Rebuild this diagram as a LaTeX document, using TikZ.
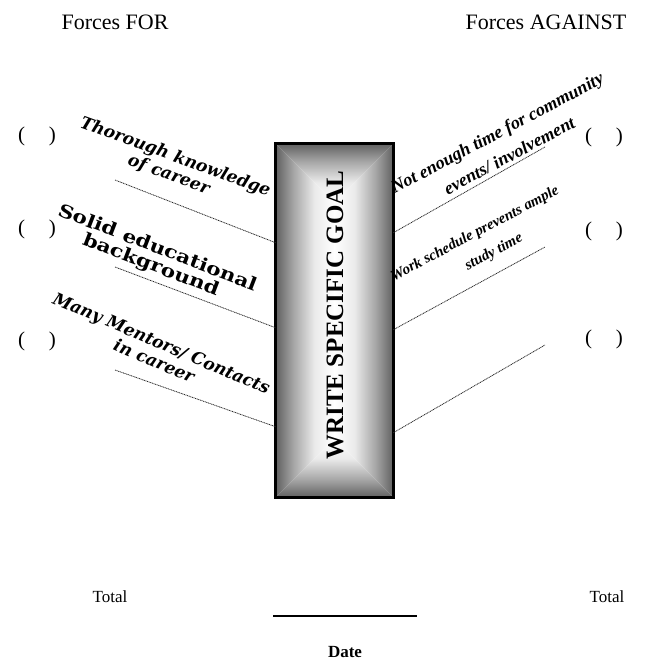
\documentclass[tikz,border=0pt]{standalone}
\usepackage{fontspec}
\setmainfont{Liberation Serif}
\newfontfamily\wideserif{DejaVu Serif}
\newfontfamily\extserif{DejaVu Serif}[FakeStretch=1.2]
\usepackage{tikz}
\usetikzlibrary{calc,positioning}
\def\fsz#1#2{\fontsize{#1}{#2}\selectfont}
\pgfdeclarehorizontalshading{sidefade}{100bp}{color(0bp)=(black!62); color(25bp)=(black!62); color(40bp)=(black!35); color(58bp)=(black!8); color(75bp)=(white); color(100bp)=(white)}

\begin{document}
\begin{tikzpicture}[x=1pt,y=-1pt,
	forlabel/.style={align=center,inner sep=0pt,font=\wideserif\bfseries\itshape\fsz{17}{19}},
	againstlabel/.style={align=center,inner sep=0pt,font=\bfseries\itshape\fsz{18}{26}},
	paren/.style={inner sep=0pt,font=\fsz{21}{21}},
	forceline/.style={line width=0.8pt,color=black!85,dash pattern=on 1pt off 0.7pt},
	goalbox/.style={minimum width=117pt,minimum height=353pt,inner sep=0pt}]
	%%%%% START %%%%%
	\useasboundingbox (0,0) rectangle (649,662);
	
	\node[font=\fsz{22}{22}] (titlefor) at (115,22) {Forces FOR};
	\node[font=\fsz{22}{22}] (titleagainst) at (546,22) {Forces AGAINST};
	
	% goal box, shaded from the edges to the middle
	\node[goalbox] (goal) at (334.5,320.5) {};
	\coordinate (gtop) at ($(goal.north)+(0,58.5)$);
	\coordinate (gbot) at ($(goal.south)+(0,-58.5)$);
	\shade[shading=sidefade] (goal.north west) -- (gtop) -- (gbot) -- (goal.south west) -- cycle;
	\shade[shading=sidefade, shading angle=180] (goal.north east) -- (gtop) -- (gbot) -- (goal.south east) -- cycle;
	\shade[shading=sidefade, shading angle=-90] (goal.north west) -- (goal.north east) -- (gtop) -- cycle;
	\shade[shading=sidefade, shading angle=90] (goal.south west) -- (goal.south east) -- (gbot) -- cycle;
	\draw[line width=3pt] (goal.north west) rectangle (goal.south east);
	\node[rotate=90, font=\bfseries\fsz{25}{25}] (goaltext) at (335,315) {WRITE SPECIFIC GOAL};
	
	% forces for
	\node[paren] (pfor1) at (37,136) {(\hspace{24pt})};
	\node[paren] (pfor2) at (37,229) {(\hspace{24pt})};
	\node[paren] (pfor3) at (37,341) {(\hspace{24pt})};
	
	\node[forlabel, rotate=-20] (for1) at (172,166) {Thorough knowledge\\of career};
	\node[forlabel, rotate=-21, font=\extserif\bfseries\fsz{18}{18}] (for2) at (154,257) {Solid educational\\background};
	\node[forlabel, rotate=-23] (for3) at (158,352) {Many Mentors/ Contacts\\in career};
	
	\coordinate (ffor1) at (115,180);
	\coordinate (ffor2) at (115,267);
	\coordinate (ffor3) at (115,370);
	\draw[forceline] (ffor1) -- ($(goal.north west)+(0,99)$);
	\draw[forceline] (ffor2) -- ($(goal.north west)+(0,184)$);
	\draw[forceline] (ffor3) -- ($(goal.north west)+(0,283)$);
	
	% forces against
	\node[paren] (pag1) at (604,137) {(\hspace{24pt})};
	\node[paren] (pag2) at (604,231) {(\hspace{24pt})};
	\node[paren] (pag3) at (604,339) {(\hspace{24pt})};
	
	\node[againstlabel, rotate=28] (ag1) at (503,144) {Not enough time for community\\events/ involvement};
	\node[againstlabel, rotate=28, font=\bfseries\itshape\fsz{15}{25}] (ag2) at (481,245) {Work schedule prevents ample\\\hspace{16pt}study time};
	
	\coordinate (fag1) at (545,147);
	\coordinate (fag2) at (545,247);
	\coordinate (fag3) at (545,345);
	\draw[forceline] ($(goal.north east)+(0,89)$) -- (fag1);
	\draw[forceline] ($(goal.north east)+(0,186)$) -- (fag2);
	\draw[forceline] ($(goal.north east)+(0,289)$) -- (fag3);
	
	% totals and date
	\node[font=\fsz{17}{17}] (totfor) at (110,597) {Total};
	\node[font=\fsz{17}{17}] (totag) at (607,597) {Total};
	\coordinate (datel) at (273,616);
	\coordinate (dater) at (417,616);
	\draw[line width=1.4pt] (datel) -- (dater);
	\node[font=\bfseries\fsz{17}{17}] (date) at (345,652) {Date};
	%%%%% END %%%%%
\end{tikzpicture}
\end{document}
